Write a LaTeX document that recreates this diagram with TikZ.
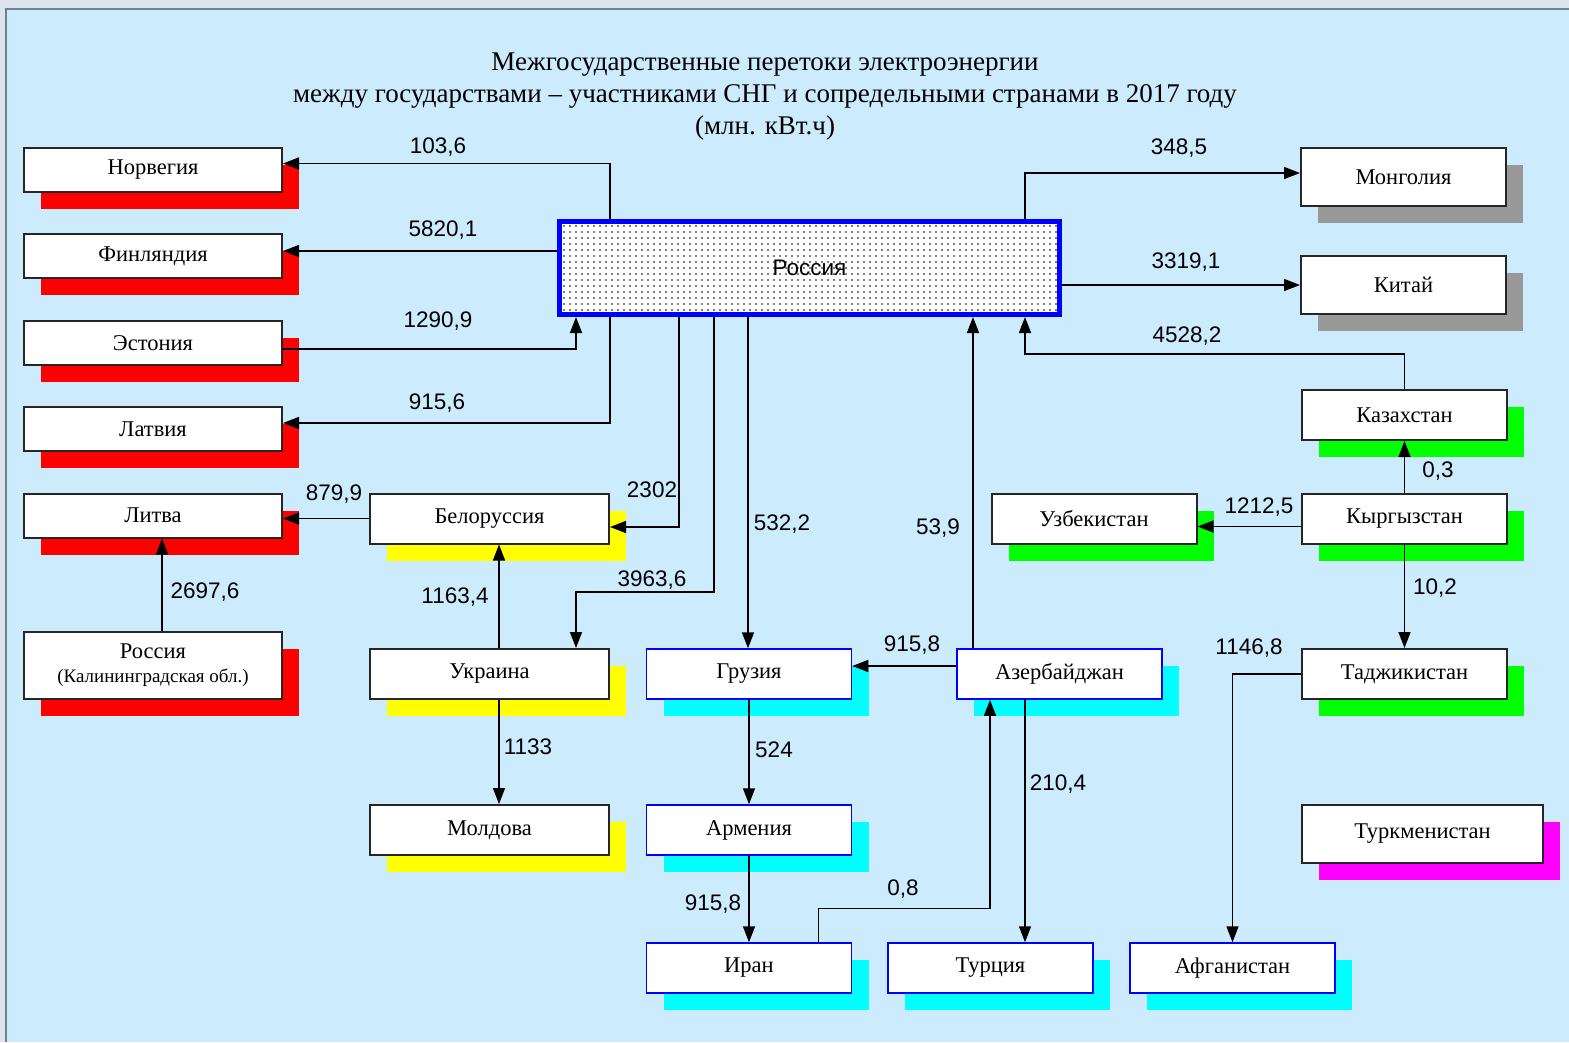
\documentclass[tikz,border=0pt]{standalone}
\usepackage{fontspec}
\setmainfont{Liberation Serif}
\newfontfamily\numfont{Liberation Sans}
\usetikzlibrary{arrows.meta,shadows,patterns.meta}

\definecolor{outerbg}{HTML}{DCE4EE}
\definecolor{panelbg}{HTML}{CCEBFD}
\definecolor{framegray}{HTML}{767E88}
\definecolor{shgray}{HTML}{999999}
\definecolor{shred}{RGB}{255,0,0}
\definecolor{shyellow}{RGB}{255,255,0}
\definecolor{shcyan}{RGB}{0,255,255}
\definecolor{shgreen}{RGB}{0,255,0}
\definecolor{shmagenta}{RGB}{255,0,255}
\definecolor{rusblue}{RGB}{0,0,255}

\tikzset{
  country/.style={draw=black!85, line width=2pt, fill=white, inner sep=0pt,
    minimum width=258pt, minimum height=44pt, font=\fontsize{22.5}{26}\selectfont},
  midbox/.style={country, minimum width=239pt, minimum height=50pt},
  eastbox/.style={country, draw=rusblue, line width=1.5pt, minimum width=205pt, minimum height=50pt},
  asiabox/.style={country, minimum width=205pt, minimum height=50pt},
  shad/.style={drop shadow={shadow xshift=17pt, shadow yshift=-17pt, fill=#1, opacity=1}},
  flow/.style={line width=1.5pt, -{Triangle[length=16pt,width=12pt]}},
  num/.style={font=\numfont\fontsize{22.5}{26}\selectfont, inner sep=0pt},
  russia/.style={draw=rusblue, line width=5pt, preaction={fill=white},
    pattern={Dots[distance=6pt,radius=0.8pt]}, minimum width=500pt, minimum height=93pt,
    font=\numfont\fontsize{22.5}{26}\selectfont},
}

\begin{document}
\begin{tikzpicture}[x=1pt, y=-1pt]
    \useasboundingbox (0,0) rectangle (1569,1042);
    \fill[outerbg] (0,0) rectangle (1569,1042);
    \fill[panelbg] (6,9) rectangle (1569,1042);
    \draw[framegray, line width=2.5pt] (6,1042) -- (6,9) -- (1569,9);

    \node[font=\fontsize{27}{32}\selectfont, align=center] (head) at (765,97)
      {Межгосударственные перетоки электроэнергии\\
       между государствами – участниками СНГ и сопредельными странами в 2017 году\\
       (млн. кВт.ч)};

    \node[russia] (rus) at (809.5,268) {Россия};

    \node[country, shad=shred] (nor) at (153,170) {Норвегия};
    \node[country, shad=shred] (fin) at (153,256) {Финляндия};
    \node[country, shad=shred] (est) at (153,343) {Эстония};
    \node[country, shad=shred] (lat) at (153,429) {Латвия};
    \node[country, shad=shred] (lit) at (153,515.5) {Литва};
    \node[country, shad=shred, minimum height=67pt, align=center] (kal) at (153,665.5)
      {Россия\\[-2pt]{\fontsize{19}{22}\selectfont(Калининградская обл.)}};

    \node[midbox, shad=shyellow] (bel) at (489.5,518.5) {Белоруссия};
    \node[midbox, shad=shyellow] (ukr) at (489.5,674) {Украина};
    \node[midbox, shad=shyellow] (mol) at (489.5,830) {Молдова};

    \node[eastbox, shad=shcyan] (geo) at (749,674) {Грузия};
    \node[eastbox, shad=shcyan] (arm) at (749,830) {Армения};
    \node[eastbox, shad=shcyan] (iran) at (749,968) {Иран};
    \node[eastbox, shad=shcyan] (tur) at (990.5,968) {Турция};
    \node[eastbox, shad=shcyan] (afg) at (1232.5,968) {Афганистан};
    \node[eastbox, shad=shcyan] (aze) at (1059.5,674) {Азербайджан};

    \node[asiabox, shad=shgreen] (uzb) at (1094,518.5) {Узбекистан};
    \node[asiabox, shad=shgreen] (kaz) at (1404.5,415) {Казахстан};
    \node[asiabox, shad=shgreen] (kyr) at (1404.5,518.5) {Кыргызстан};
    \node[asiabox, shad=shgreen] (tad) at (1404.5,674) {Таджикистан};
    \node[asiabox, shad=shmagenta, minimum width=241pt, minimum height=58pt] (tkm) at (1422.5,834) {Туркменистан};
    \node[asiabox, shad=shgray, minimum height=58pt] (mon) at (1403.5,177) {Монголия};
    \node[asiabox, shad=shgray, minimum height=58pt] (chn) at (1403.5,285) {Китай};

    \coordinate (r1) at ([xshift=19pt]rus.south west);
    \coordinate (r2) at ([xshift=53pt]rus.south west);
    \coordinate (r3) at ([xshift=122pt]rus.south west);
    \coordinate (r4) at ([xshift=157pt]rus.south west);
    \coordinate (r5) at ([xshift=191pt]rus.south west);
    \coordinate (r6) at ([xshift=416pt]rus.south west);
    \coordinate (r7) at ([xshift=468pt]rus.south west);
    \coordinate (t1) at ([xshift=53pt]rus.north west);
    \coordinate (t2) at ([xshift=468pt]rus.north west);

    \draw[flow] (t1) |- ([yshift=6.5pt]nor.east);
    \draw[flow] ([yshift=17pt]rus.west) -- ([yshift=5pt]fin.east);
    \draw[flow] ([yshift=-6pt]est.east) -| (r1);
    \draw[flow] (r2) |- ([yshift=6pt]lat.east);
    \draw[flow] (bel.west) -- (bel.west -| lit.east);
    \draw[flow] ([xshift=9pt]kal.north) -- ([xshift=9pt]lit.south);
    \draw[flow] (r3) |- ([yshift=-8.5pt]bel.east);
    \draw[flow] (r4) -- ++(0,275) -| ([xshift=86.5pt]ukr.north);
    \draw[flow] (r5) -- (r5 |- geo.north);
    \draw[flow] ([xshift=9.5pt]ukr.north) -- ([xshift=9.5pt]bel.south);
    \draw[flow] ([xshift=9.5pt]ukr.south) -- ([xshift=9.5pt]mol.north);
    \draw[flow] (geo.south) -- (arm.north);
    \draw[flow] (arm.south) -- (iran.north);
    \draw[flow] ([yshift=8pt]aze.west) -- ([yshift=8pt]geo.east);
    \draw[flow] (r6 |- aze.north) -- (r6);
    \draw[flow] ([xshift=69.5pt]iran.north) -- ++(0,-34) -| ([xshift=-69.5pt]aze.south);
    \draw[flow] ([xshift=-34.5pt]aze.south) -- ([xshift=34.5pt]tur.north);
    \draw[flow] (t2) |- ([yshift=4pt]mon.west);
    \draw[flow] (rus.east |- chn.west) -- (chn.west);
    \draw[flow] (kaz.north) -- ++(0,-35) -| (r7);
    \draw[flow] (kyr.north) -- (kaz.south);
    \draw[flow] ([yshift=-8pt]kyr.west) -- ([yshift=-8pt]uzb.east);
    \draw[flow] (kyr.south) -- (tad.north);
    \draw[flow] (tad.west) -| (afg.north);

    \node[num] (v1036) at (438,147) {103,6};
    \node[num] (v58201) at (443,230) {5820,1};
    \node[num] (v12909) at (438,321) {1290,9};
    \node[num] (v9156) at (437,403) {915,6};
    \node[num] (v8799) at (334,494) {879,9};
    \node[num] (v26976) at (205,592) {2697,6};
    \node[num] (v2302) at (652,490) {2302};
    \node[num] (v39636) at (652,580) {3963,6};
    \node[num] (v11634) at (455,597) {1163,4};
    \node[num] (v5322) at (782,524) {532,2};
    \node[num] (v539) at (938,528) {53,9};
    \node[num] (v9158a) at (912,645) {915,8};
    \node[num] (v1133) at (528,747) {1133};
    \node[num] (v524) at (774,750) {524};
    \node[num] (v9158b) at (713,904) {915,8};
    \node[num] (v08) at (903,889) {0,8};
    \node[num] (v2104) at (1058,784) {210,4};
    \node[num] (v3485) at (1179,148) {348,5};
    \node[num] (v33191) at (1186,262) {3319,1};
    \node[num] (v45282) at (1187,336) {4528,2};
    \node[num] (v03) at (1438,471) {0,3};
    \node[num] (v12125) at (1259,507) {1212,5};
    \node[num] (v102) at (1435,588) {10,2};
    \node[num] (v11468) at (1249,648) {1146,8};
\end{tikzpicture}
\end{document}
